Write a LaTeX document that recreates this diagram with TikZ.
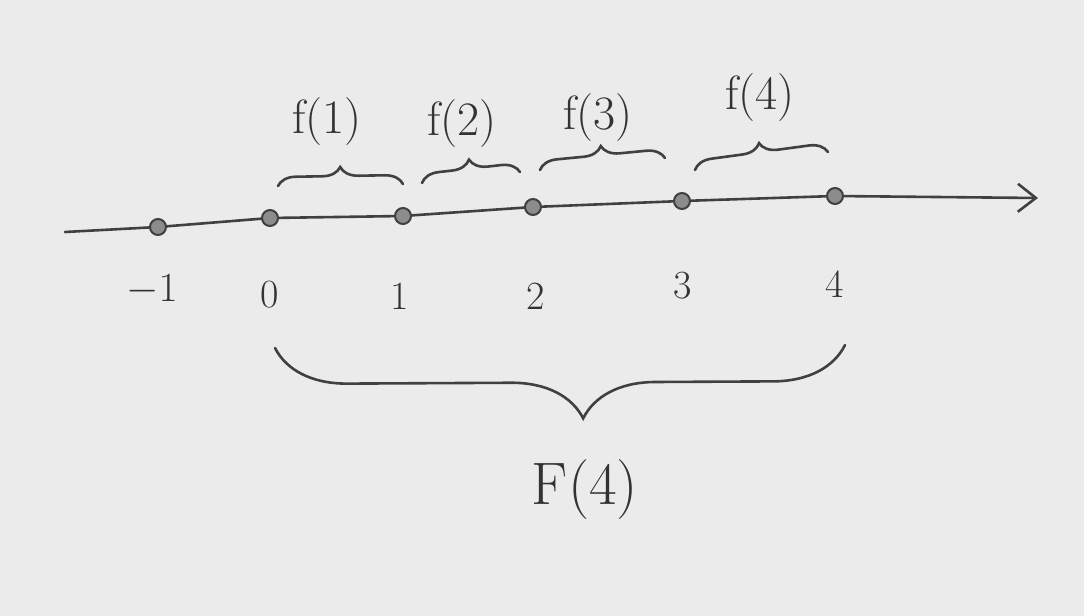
\documentclass[tikz,border=0pt]{standalone}
\usetikzlibrary{decorations.pathreplacing,arrows.meta}
\begin{document}
\begin{tikzpicture}[x=0.5pt,y=-0.5pt,
  ink/.style={draw=black!75,line width=1.3pt,line cap=round},
  dot/.style={circle,draw=black!75,fill=black!45,line width=1pt,inner sep=0pt,minimum size=8pt},
  lab/.style={text=black!80,font=\fontsize{20}{22}\selectfont},
  flab/.style={text=black!80,font=\fontsize{24}{26}\selectfont},
  brc/.style={ink,decorate,decoration={brace,amplitude=9pt}}]
\fill[black!8] (0,0) rectangle (1084,616);
\useasboundingbox (0,0) rectangle (1084,616);
\coordinate (s) at (65,232);
\coordinate (e) at (1038,198);
\node[dot] (pm1) at (158,227) {};
\node[dot] (p0) at (270,218) {};
\node[dot] (p1) at (403,216) {};
\node[dot] (p2) at (533,207) {};
\node[dot] (p3) at (682,201) {};
\node[dot] (p4) at (835,196) {};
\draw[ink,-{Straight Barb[length=9pt,width=14pt]}] (s) -- (pm1) -- (p0) -- (p1) -- (p2) -- (p3) -- (p4) -- (e);
\node[lab] (lm1) at (152,290) {$-1$};
\node[lab] (l0) at (270,295) {0};
\node[lab] (l1) at (400,296) {1};
\node[lab] (l2) at (536,296) {2};
\node[lab] (l3) at (683,286) {3};
\node[lab] (l4) at (835,284) {4};
\coordinate (a0) at (278,186);
\coordinate (a1) at (403,184);
\coordinate (b0) at (422,183);
\coordinate (b1) at (520,172);
\coordinate (c0) at (540,170);
\coordinate (c1) at (665,158);
\coordinate (d0) at (695,170);
\coordinate (d1) at (828,152);
\draw[brc] (a0) -- (a1);
\draw[brc] (b0) -- (b1);
\draw[brc] (c0) -- (c1);
\draw[brc] (d0) -- (d1);
\node[flab] (f1) at (327,122) {f(1)};
\node[flab] (f2) at (462,124) {f(2)};
\node[flab] (f3) at (598,118) {f(3)};
\node[flab] (f4) at (760,98) {f(4)};
\coordinate (g0) at (845,345);
\coordinate (g1) at (275,348);
\draw[ink,decorate,decoration={brace,amplitude=36pt,aspect=0.46}] (g0) -- (g1);
\node[text=black!80,font=\fontsize{30}{32}\selectfont] (F) at (585,490) {F(4)};
\end{tikzpicture}
\end{document}
